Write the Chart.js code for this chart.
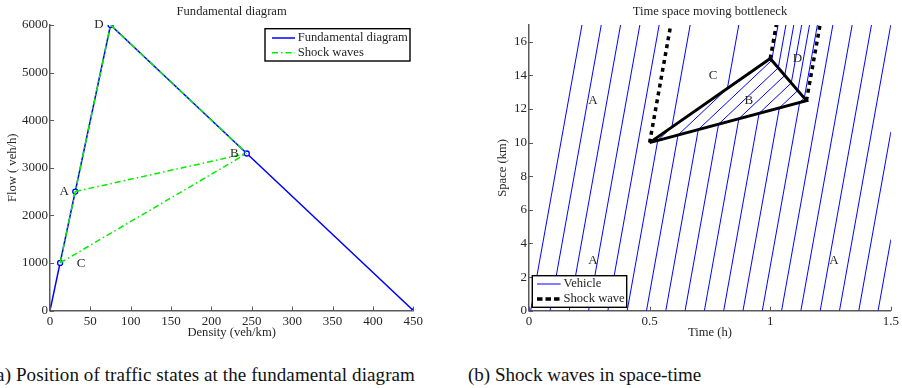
<!DOCTYPE html>
<html lang="en">
<head>
  <meta charset="UTF-8" />
  <title>Moving bottleneck</title>
  <style>
    body {
      margin: 0;
      width: 902px;
      height: 388px;
      overflow: hidden;
      position: relative;
      background: #fff;
      font-family: 'Liberation Serif', 'Times New Roman', serif;
    }
    .panel { position: absolute; top: 0; }
    #fdPanel { left: 0; }
    #tsPanel { left: 451px; }
    .caption {
      position: absolute;
      top: 364px;
      font-size: 19px;
      line-height: 22px;
      color: #111;
      white-space: nowrap;
    }
    #capA { right: 487px; letter-spacing: 0.1px; }
    #capB { left: 468px; }
  </style>
</head>
<body>
  <div class="panel" id="fdPanel"><canvas id="fdChart" width="450" height="340"></canvas></div>
  <div class="panel" id="tsPanel"><canvas id="tsChart" width="451" height="340"></canvas></div>
  <div class="caption" id="capA">(a) Position of traffic states at the fundamental diagram</div>
  <div class="caption" id="capB">(b) Shock waves in space-time</div>

  <script src="https://cdn.jsdelivr.net/npm/chart.js"></script>
  <script>
    // traffic states on the fundamental diagram
    const stateNames   = ['A', 'B', 'C', 'D'];
    const stateDensity = [31.25, 243.75, 12.5, 75];   // veh/km
    const stateFlow    = [2500, 3300, 1000, 6000];    // veh/h

    // triangular fundamental diagram
    const fdDensity = [0, 12.5, 31.25, 75, 243.75, 450];
    const fdFlow    = [0, 1000, 2500, 6000, 3300, 0];

    // shock waves between states
    const shockPairs = [['C', 'D'], ['D', 'B'], ['A', 'B'], ['C', 'B']];

    const fdXTicks = [0, 50, 100, 150, 200, 250, 300, 350, 400, 450];
    const fdYTicks = [0, 1000, 2000, 3000, 4000, 5000, 6000];

    // time-space diagram
    const vehicleStart = [0.007, 0.087, 0.167, 0.247, 0.327, 0.407, 0.487, 0.567, 0.647, 0.727,
                          0.807, 0.887, 0.967, 1.047, 1.127, 1.207, 1.287, 1.367, 1.447]; // h at km 0
    const bottleneckTime  = [0.5, 1.0, 1.15];   // h
    const bottleneckSpace = [10, 15, 12.5];     // km
    const tsXTicks = [0, 0.5, 1, 1.5];
    const tsYTicks = [0, 2, 4, 6, 8, 10, 12, 14, 16];
    const tsTimeMax = 1.5;
    const tsSpaceMax = 17;

    const regionLabel = ['A', 'A', 'A', 'C', 'B', 'D'];
    const regionTime  = [0.265, 0.265, 1.264, 0.763, 0.911, 1.113];
    const regionSpace = [12.5, 3, 3, 14, 12.5, 15];

    // ---- styling
    const serif = '"Liberation Serif", "Times New Roman", serif';
    const textColor = '#262626';
    const axisColor = '#5a5a5a';
    const blue = '#0000ff';
    const green = '#00ee00';
    const labelFont = '12.6px ' + serif;

    const state = name => {
      const i = stateNames.indexOf(name);
      return { x: stateDensity[i], y: stateFlow[i] };
    };

    function axis(min, max, ticks, title, size, tickPad, titlePad) {
      return {
        type: 'linear',
        min: min,
        max: max,
        afterBuildTicks: s => { s.ticks = ticks.map(v => ({ value: v })); },
        afterFit: s => { if (s.isHorizontal()) s.height = size; else s.width = size; },
        grid: { display: false, drawTicks: false },
        border: { display: true, color: axisColor, width: 1.5 },
        ticks: {
          autoSkip: false, maxRotation: 0, padding: tickPad,
          color: textColor, font: { family: serif, size: 13 },
          callback: v => String(v)
        },
        title: {
          display: true, text: title, color: textColor,
          font: { family: serif, size: 12.6 }, padding: titlePad
        }
      };
    }

    function drawLegend(ctx, box, items) {
      ctx.fillStyle = '#fff';
      ctx.fillRect(box.x, box.y, box.w, box.h);
      ctx.strokeStyle = '#000';
      ctx.lineWidth = 1.4;
      ctx.setLineDash([]);
      ctx.strokeRect(box.x, box.y, box.w, box.h);
      ctx.font = labelFont;
      ctx.textAlign = 'left';
      ctx.textBaseline = 'middle';
      items.forEach(it => {
        ctx.beginPath();
        ctx.strokeStyle = it.color;
        ctx.lineWidth = it.width;
        ctx.setLineDash(it.dash || []);
        ctx.moveTo(box.x + box.lineStart, box.y + it.dy);
        ctx.lineTo(box.x + box.lineEnd, box.y + it.dy);
        ctx.stroke();
        ctx.setLineDash([]);
        ctx.fillStyle = textColor;
        ctx.fillText(it.text, box.x + box.textStart, box.y + it.dy);
      });
    }

    const decorations = {
      id: 'decorations',
      afterDraw(chart, args, opts) {
        const { ctx, chartArea: a, scales: { x, y } } = chart;
        ctx.save();
        // inward tick marks
        ctx.strokeStyle = axisColor;
        ctx.lineWidth = 1;
        x.ticks.forEach(t => {
          const px = Math.round(x.getPixelForValue(t.value)) + 0.5;
          ctx.beginPath(); ctx.moveTo(px, a.bottom); ctx.lineTo(px, a.bottom - 4); ctx.stroke();
        });
        y.ticks.forEach(t => {
          const py = Math.round(y.getPixelForValue(t.value)) + 0.5;
          ctx.beginPath(); ctx.moveTo(a.left, py); ctx.lineTo(a.left + 4, py); ctx.stroke();
        });
        // title
        ctx.fillStyle = textColor;
        ctx.font = labelFont;
        ctx.textAlign = 'center';
        ctx.textBaseline = 'middle';
        ctx.fillText(opts.title, (a.left + a.right) / 2, 12);
        // text labels
        ctx.font = '13px ' + serif;
        opts.labels.forEach(l => {
          ctx.fillText(l.text, x.getPixelForValue(l.x) + (l.dx || 0), y.getPixelForValue(l.y) + (l.dy || 0));
        });
        // legend
        const b = opts.legend;
        const box = {
          x: b.anchor === 'right' ? a.right - b.offX - b.w : a.left + b.offX,
          y: b.valign === 'top' ? a.top + b.offY : a.bottom - b.offY - b.h,
          w: b.w, h: b.h, lineStart: b.lineStart, lineEnd: b.lineEnd, textStart: b.textStart
        };
        drawLegend(ctx, box, b.items);
        ctx.restore();
      }
    };

    // ---- (a) fundamental diagram
    const fdDatasets = [{
      label: 'Fundamental diagram',
      data: fdDensity.map((k, i) => ({ x: k, y: fdFlow[i] })),
      showLine: true,
      borderColor: blue,
      borderWidth: 1.5,
      pointRadius: [0, 2.5, 2.5, 2.5, 2.5, 1.5],
      pointBorderColor: blue,
      pointBackgroundColor: '#fff',
      pointBorderWidth: 1.3,
      order: 2
    }];
    shockPairs.forEach(p => {
      fdDatasets.push({
        label: 'Shock waves',
        data: [state(p[0]), state(p[1])],
        showLine: true,
        borderColor: green,
        borderWidth: 1.5,
        borderDash: [6, 3, 1.5, 3],
        pointRadius: 0,
        order: 1
      });
    });

    new Chart(document.getElementById('fdChart'), {
      type: 'scatter',
      data: { datasets: fdDatasets },
      options: {
        responsive: false,
        animation: false,
        layout: { padding: { top: 25, right: 36.7, left: 0, bottom: 0 } },
        plugins: {
          legend: { display: false },
          tooltip: { enabled: false },
          decorations: {
            title: 'Fundamental diagram',
            labels: [
              { text: 'D', x: stateDensity[3], y: stateFlow[3], dx: -11.5 },
              { text: 'B', x: stateDensity[1], y: stateFlow[1], dx: -12.5 },
              { text: 'A', x: stateDensity[0], y: stateFlow[0], dx: -11 },
              { text: 'C', x: stateDensity[2], y: stateFlow[2], dx: 21, dy: 1 }
            ],
            legend: {
              anchor: 'right', valign: 'top', offX: 3.3, offY: 3.7, w: 145, h: 32.3,
              lineStart: 7, lineEnd: 30, textStart: 32.7,
              items: [
                { text: 'Fundamental diagram', color: blue, width: 1.5, dy: 9.3 },
                { text: 'Shock waves', color: green, width: 1.5, dash: [6, 3, 1.5, 3], dy: 24 }
              ]
            }
          }
        },
        scales: {
          x: axis(0, 450, fdXTicks, 'Density (veh/km)', 29.5, 3, { top: 0, bottom: 0 }),
          y: axis(0, 6000, fdYTicks, 'Flow ( veh/h)', 50, 2, { top: 5.5, bottom: 0 })
        }
      },
      plugins: [decorations]
    });

    // ---- (b) time-space diagram
    const vFree = stateFlow[0] / stateDensity[0];   // km/h, free flow (A, C, D)
    const vB = stateFlow[1] / stateDensity[1];      // km/h, inside bottleneck (B)
    const corner = i => ({ x: bottleneckTime[i], y: bottleneckSpace[i] });

    // where a trajectory starting at (ts, xs) with speed v meets segment pa-pb
    function meet(ts, xs, v, pa, pb) {
      const dt = pb.x - pa.x, dx = pb.y - pa.y;
      const s = (xs + v * (pa.x - ts) - pa.y) / (dx - v * dt);
      if (!(s >= 0 && s <= 1)) return null;
      const t = pa.x + s * dt;
      if (t <= ts + 1e-9) return null;
      return { x: t, y: pa.y + s * dx };
    }

    function leave(p, v) {
      const t = p.x + (tsSpaceMax - p.y) / v;
      if (t <= tsTimeMax) return { x: t, y: tsSpaceMax };
      return { x: tsTimeMax, y: p.y + v * (tsTimeMax - p.x) };
    }

    function trajectory(t0) {
      let p = { x: t0, y: 0 };
      const pts = [p];
      const enter = meet(p.x, p.y, vFree, corner(0), corner(2));
      if (enter) {
        pts.push(enter);
        const exit = meet(enter.x, enter.y, vB, corner(0), corner(1)) ||
                     meet(enter.x, enter.y, vB, corner(1), corner(2));
        pts.push(exit);
        p = exit;
      }
      pts.push(leave(p, vFree));
      return pts;
    }

    const tsDatasets = vehicleStart.map(t0 => ({
      label: 'Vehicle',
      data: trajectory(t0),
      showLine: true,
      borderColor: blue,
      borderWidth: 1,
      pointRadius: 0,
      order: 2
    }));
    tsDatasets.push({
      label: 'Shock wave',
      data: [corner(0), corner(1), corner(2), corner(0)],
      showLine: true,
      borderColor: '#000',
      borderWidth: 3,
      pointRadius: 0,
      order: 1
    });
    [0, 1, 2].forEach(i => {
      tsDatasets.push({
        label: 'Shock wave',
        data: [corner(i), leave(corner(i), vFree)],
        showLine: true,
        borderColor: '#000',
        borderWidth: 3.5,
        borderDash: [4, 4],
        pointRadius: 0,
        order: 1
      });
    });

    new Chart(document.getElementById('tsChart'), {
      type: 'scatter',
      data: { datasets: tsDatasets },
      options: {
        responsive: false,
        animation: false,
        layout: { padding: { top: 25, right: 10.3, left: 0, bottom: 0 } },
        plugins: {
          legend: { display: false },
          tooltip: { enabled: false },
          decorations: {
            title: 'Time space moving bottleneck',
            labels: regionLabel.map((t, i) => ({ text: t, x: regionTime[i], y: regionSpace[i] })),
            legend: {
              anchor: 'left', valign: 'bottom', offX: 3.3, offY: 3.4, w: 94.4, h: 31.6,
              lineStart: 4.7, lineEnd: 28.4, textStart: 31.2,
              items: [
                { text: 'Vehicle', color: blue, width: 1, dy: 8.3 },
                { text: 'Shock wave', color: '#000', width: 3.5, dash: [5.5, 3], dy: 23.3 }
              ]
            }
          }
        },
        scales: {
          x: axis(0, tsTimeMax, tsXTicks, 'Time (h)', 29.3, 3, { top: 0, bottom: 0 }),
          y: axis(0, tsSpaceMax, tsYTicks, 'Space (km)', 78, 2, { top: 44.5, bottom: 0 })
        }
      },
      plugins: [decorations]
    });
  </script>
</body>
</html>
